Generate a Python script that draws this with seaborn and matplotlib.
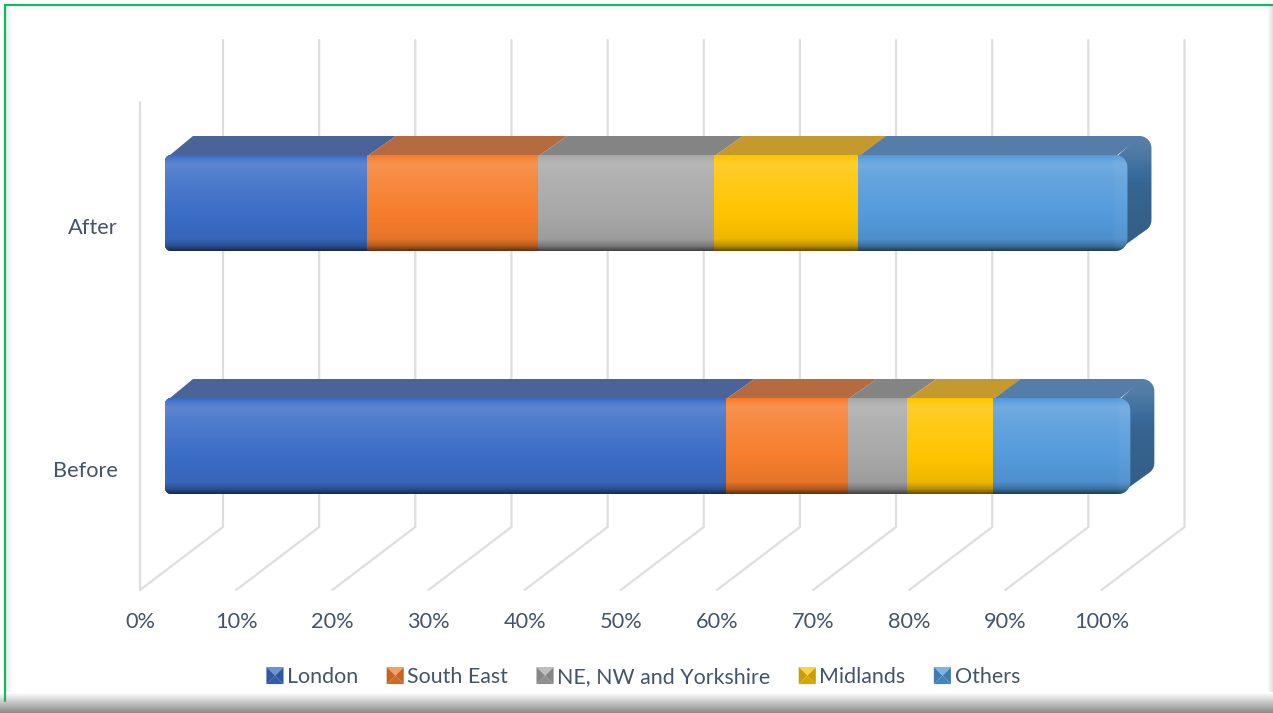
import numpy as np
import pandas as pd
import matplotlib
matplotlib.use("Agg")
import matplotlib.pyplot as plt
import seaborn as sns
from matplotlib.transforms import Affine2D, IdentityTransform
from matplotlib.patches import Polygon, Patch
from matplotlib.legend_handler import HandlerBase
from matplotlib.ticker import FuncFormatter

periods = ["After", "Before"]
regions = ["London", "South East", "NE, NW and Yorkshire", "Midlands", "Others"]
london = [21.0, 58.3]
south_east = [17.8, 12.7]
ne_nw_yorkshire = [18.3, 6.2]
midlands = [15.0, 8.9]
others = [28.0, 14.3]
x_ticks = [0, 10, 20, 30, 40, 50, 60, 70, 80, 90, 100]

colors = ["#3B6DC7", "#F67D2C", "#A8A8A8", "#FFC400", "#549ADB"]
top_colors = ["#4A6499", "#B56A40", "#848484", "#C49A2F", "#557DA8"]
text_color = "#44546A"
grid_color = "#DDDEE4"
font_size = 15.7

W, H = 1273, 713
sns.set_theme(style="white")
plt.rcParams["font.family"] = ["Lato", "DejaVu Sans"]
fig = plt.figure(figsize=(W / 100, H / 100), dpi=100, facecolor="white")


def mix(c, t):
    c = np.array(matplotlib.colors.to_rgb(c))
    return c + (1 - c) * t if t >= 0 else c * (1 + t)


# ---- chart background: green frame and soft shadow
bg = fig.add_axes([0, 0, 1, 1], zorder=0)
shade = np.linspace(1, 0.55, 21)[:, None]
bg.imshow(shade, extent=(0, W, H, H - 21), cmap="gray", vmin=0, vmax=1, aspect="auto", zorder=1)
side = np.linspace(1, 0.88, 6)[None, :]
bg.imshow(side, extent=(W - 6, W, H - 21, 5), cmap="gray", vmin=0, vmax=1, aspect="auto", zorder=1)
lft = np.linspace(0.93, 1, 8)[None, :]
bg.imshow(lft, extent=(6, 14, H - 21, 5), cmap="gray", vmin=0, vmax=1, aspect="auto", zorder=1)
bg.plot([5, 5, W], [H - 12, 4.5, 4.5], color="#12B862", lw=1.6, solid_joinstyle="miter", zorder=2)
bg.set_xlim(0, W)
bg.set_ylim(H, 0)
bg.axis("off")

# ---- main axes: front plane of the 3-D box
L, R, T, B = 140, 1240, 40, 590
ax = fig.add_axes([L / W, 1 - B / H, (R - L) / W, (B - T) / H], zorder=1)
ax.patch.set_alpha(0)
unit = 9.615
spacing = 243

values = np.array([london, south_east, ne_nw_yorkshire, midlands, others], dtype=float)
cum = values.cumsum(axis=0)
df = pd.DataFrame(
    [(p, r, cum[i, j]) for i, r in enumerate(regions) for j, p in enumerate(periods)],
    columns=["period", "region", "cum"],
)
sns.barplot(
    data=df, x="cum", y="period", hue="region", hue_order=regions[::-1], order=periods,
    palette=dict(zip(regions, colors)), dodge=False, width=0.395, saturation=1,
    orient="h", legend=False, ax=ax, zorder=3,
)

ax.set_xlim(0, (R - L) / unit)
ax.set_ylim((B - 226) / spacing, (T - 226) / spacing)
ax.set_xlabel("")
ax.set_ylabel("")
for s in ax.spines.values():
    s.set_visible(False)
ax.set_xticks(x_ticks)
ax.xaxis.set_major_formatter(FuncFormatter(lambda v, _: f"{v:.0f}%"))
ax.tick_params(axis="x", length=0, pad=15.5, labelsize=font_size, labelcolor=text_color)
ax.tick_params(axis="y", length=0, pad=16, labelsize=font_size, labelcolor=text_color)
fig.canvas.draw()

# ---- 3-D gridlines from the tick positions
depth_dx, depth_dy = 83, 63
px = IdentityTransform()
for v in x_ticks:
    x0, y0 = ax.transData.transform((v, ax.get_ylim()[0]))
    ytop = H - T
    ax.plot([x0, x0 + depth_dx, x0 + depth_dx], [y0, y0 + depth_dy, ytop], transform=px,
            color=grid_color, lw=1.6, zorder=1, clip_on=False, solid_joinstyle="miter")
x0, y0 = ax.transData.transform((0, ax.get_ylim()[0]))
ax.plot([x0, x0], [y0, H - 102], transform=px, color=grid_color, lw=1.6, zorder=1, clip_on=False)

# ---- bars: front plane shifted into the box, with shaded faces
shift = Affine2D().translate(25, 23)
containers = {r: c for r, c in zip(regions[::-1], ax.containers)}
for b in ax.patches:
    b.set_transform(ax.transData + shift)
    b.set_linewidth(0)


def gradient(c, pts, vals, n=120):
    t = np.linspace(0, 1, n)
    ls = np.interp(t, pts, vals)
    return np.array([mix(c, l) for l in ls])[:, None, :]


def arc(cx, cy, r, a0, a1, n=10):
    a = np.radians(np.linspace(a0, a1, n))
    return np.c_[cx + r * np.cos(a), cy + r * np.sin(a)]


for j, period in enumerate(periods):
    ext = [containers[r][j].get_window_extent() for r in regions]
    xs = [ext[0].x0] + [e.x1 for e in ext]
    yb, yt = ext[0].y0, ext[0].y1
    dx, dy = 24, 19
    dxt = 27
    xe = xs[-1]

    # outline used to clip the front face: small radius left, larger radius right
    rl, rr = 6, 12
    outline = np.vstack([
        arc(xs[0] + rl, yb + rl, rl, 180, 270),
        arc(xe - rr, yb + rr, rr, 270, 360),
        arc(xe - rr, yt - rr, rr, 0, 90),
        arc(xs[0] + rl, yt - rl, rl, 90, 180),
    ])
    body = Polygon(outline, closed=True, transform=px, facecolor="none", linewidth=0)
    ax.add_patch(body)
    for r in regions:
        containers[r][j].set_clip_path(body)

    # right side face
    r = 12
    verts = np.vstack([
        [(xe - 9, yt)],
        arc(xe + dx - r, yt + dy - r, r, 90, 0),
        arc(xe + dx - r, yb + dy + r, r, 0, -60),
        [(xe - 10, yb + 0.5)],
    ])
    side_poly = Polygon(verts, closed=True, transform=px, facecolor="none", linewidth=0)
    ax.add_patch(side_poly)
    arr = gradient("#3A6A9A", [0, 0.12, 0.45, 1], [0.15, 0.12, -0.06, -0.12])
    im = ax.imshow(arr, extent=(xe - 12, xe + dx + 1, yb - 1, yt + dy + 1), transform=px,
                   aspect="auto", zorder=3.1, interpolation="bilinear")
    im.set_clip_path(side_poly)

    # top faces
    for i in range(5):
        x_a, x_b = xs[i], xs[i + 1]
        if i == 0:
            poly = [(x_a + 5, yt), (x_a + dxt + 1, yt + dy), (x_b + dxt + 2, yt + dy), (x_b + 2, yt)]
        elif i == 4:
            poly = [(x_a + 2, yt), (x_a + dxt + 1, yt + dy), (x_b + dx - 10, yt + dy),
                    (x_b - 10, yt)]
        else:
            poly = [(x_a + 2, yt), (x_a + dxt + 2, yt + dy), (x_b + dxt + 2, yt + dy), (x_b + 2, yt)]
        ax.add_patch(Polygon(poly, closed=True, transform=px, facecolor=top_colors[i],
                             edgecolor="none", zorder=3.2))

    # front faces
    for i in range(5):
        arr = gradient(colors[i], [0, 0.03, 0.09, 0.25, 0.62, 0.88, 0.95, 1],
                       [-0.02, 0.06, 0.17, 0.1, 0.0, -0.07, -0.28, -0.6])
        if i == 4:
            arr = np.repeat(arr, 200, axis=1)
            u = np.linspace(0, xs[5] - xs[4], 200)
            fac = np.clip((u - (u[-1] - 15)) / 5, 0, 1)
            arr = arr + (1 - arr) * (0.04 * fac)[None, :, None]
        im = ax.imshow(arr, extent=(xs[i], xs[i + 1], yb, yt), transform=px,
                       aspect="auto", zorder=3.3, interpolation="bilinear")
        im.set_clip_path(body)

ax.set_xlim(0, (R - L) / unit)
ax.set_ylim((B - 226) / spacing, (T - 226) / spacing)
ax.set_aspect("auto")


# ---- legend with bevelled square keys
class BevelHandler(HandlerBase):
    def create_artists(self, legend, orig, xd, yd, width, height, fontsize, trans):
        c = orig.get_facecolor()
        s = min(width, height) * 1.1
        x = xd * -1 + (width - s) / 2
        y = yd * -1 + (height - s) / 2
        m = (x + s / 2, y + s / 2)
        a, b, cc, d = (x, y), (x + s, y), (x + s, y + s), (x, y + s)
        out = []
        for tri, t in (([a, b, m], -0.15), ([b, cc, m], -0.2), ([cc, d, m], 0.25), ([d, a, m], -0.2)):
            out.append(Polygon(tri, closed=True, facecolor=mix(c, t), edgecolor="none",
                               transform=trans))
        return out


handles = [Patch(facecolor=c, label=r) for c, r in zip(colors, regions)]
fig.legend(
    handles=handles, labels=regions, ncol=5, loc="center", bbox_to_anchor=(643.5 / W, 1 - 677 / H),
    frameon=False, fontsize=15.4, labelcolor=text_color, handlelength=0.74, handleheight=0.74,
    handletextpad=0.2, columnspacing=1.35, borderpad=0,
    handler_map={Patch: BevelHandler()},
)

fig.savefig("out.png", dpi=100)
